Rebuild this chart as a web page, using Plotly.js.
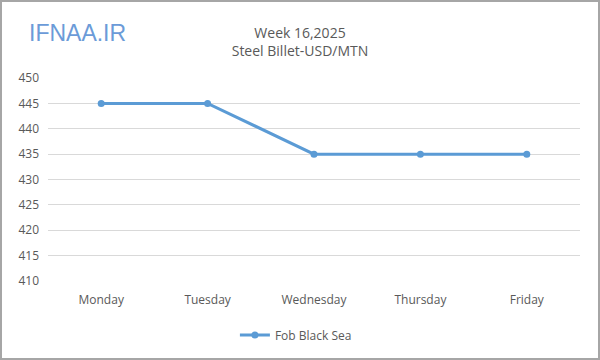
<!DOCTYPE html>
<html><head><meta charset="utf-8">
<script src="https://cdn.plot.ly/plotly-3.0.1.min.js"></script>
<style>
html,body{margin:0;padding:0;background:#fff;}
#wrap{position:relative;width:600px;height:360px;}
#chart{width:600px;height:360px;}
#border{position:absolute;left:0;top:0;width:596px;height:356px;border:2px solid #a6a6a6;pointer-events:none;}
</style></head>
<body>
<div id="wrap"><div id="chart"></div><div id="border"></div></div>
<script>
const categories = ["Monday", "Tuesday", "Wednesday", "Thursday", "Friday"];
const fobBlackSea = [445, 445, 435, 435, 435];
const seriesName = "Fob Black Sea";
const yTicks = [410, 415, 420, 425, 430, 435, 440, 445, 450];

const fontFam = "Open Sans, Noto Sans, sans-serif";
const grey = "#595959";

Plotly.newPlot("chart", [{
  x: categories,
  y: fobBlackSea,
  name: seriesName,
  type: "scatter",
  mode: "lines+markers",
  line: {color: "#5b9bd5", width: 3},
  marker: {color: "#5b9bd5", size: 7, symbol: "circle"}
}], {
  width: 600, height: 360,
  margin: {l: 48, r: 20, t: 78, b: 78},
  paper_bgcolor: "#fff", plot_bgcolor: "#fff",
  font: {family: fontFam, size: 12, color: grey},
  title: {
    text: "Week 16,2025<br>Steel Billet-USD/MTN",
    x: 0.5, xref: "container", xanchor: "center",
    y: 1 - 38 / 360, yref: "container", yanchor: "middle",
    font: {family: fontFam, size: 14, color: grey}
  },
  showlegend: true,
  legend: {
    orientation: "h", x: 0.466, xanchor: "center", y: -0.26, yanchor: "middle",
    font: {family: fontFam, size: 12, color: grey}
  },
  xaxis: {
    type: "category",
    range: [-0.5, 4.5],
    showgrid: false, zeroline: false,
    showline: false,
    ticks: "", ticklabelstandoff: 10,
    tickfont: {family: fontFam, size: 12, color: grey},
    fixedrange: true
  },
  yaxis: {
    range: [410, 450],
    tickvals: yTicks,
    showgrid: true, gridcolor: "#d9d9d9", gridwidth: 1,
    zeroline: false, showline: false,
    ticks: "", ticklabelstandoff: 8,
    tickfont: {family: fontFam, size: 12, color: grey},
    fixedrange: true
  },
  annotations: [{
    text: "IFNAA.IR", xref: "paper", yref: "paper",
    x: (77 - 48) / 532, y: (78 - 33) / 204 + 1,
    xanchor: "center", yanchor: "middle", showarrow: false,
    font: {family: "Liberation Sans, Arial, sans-serif", size: 23, color: "#6b9bd8"}
  }]
}, {displayModeBar: false, staticPlot: true});
</script>
</body></html>
